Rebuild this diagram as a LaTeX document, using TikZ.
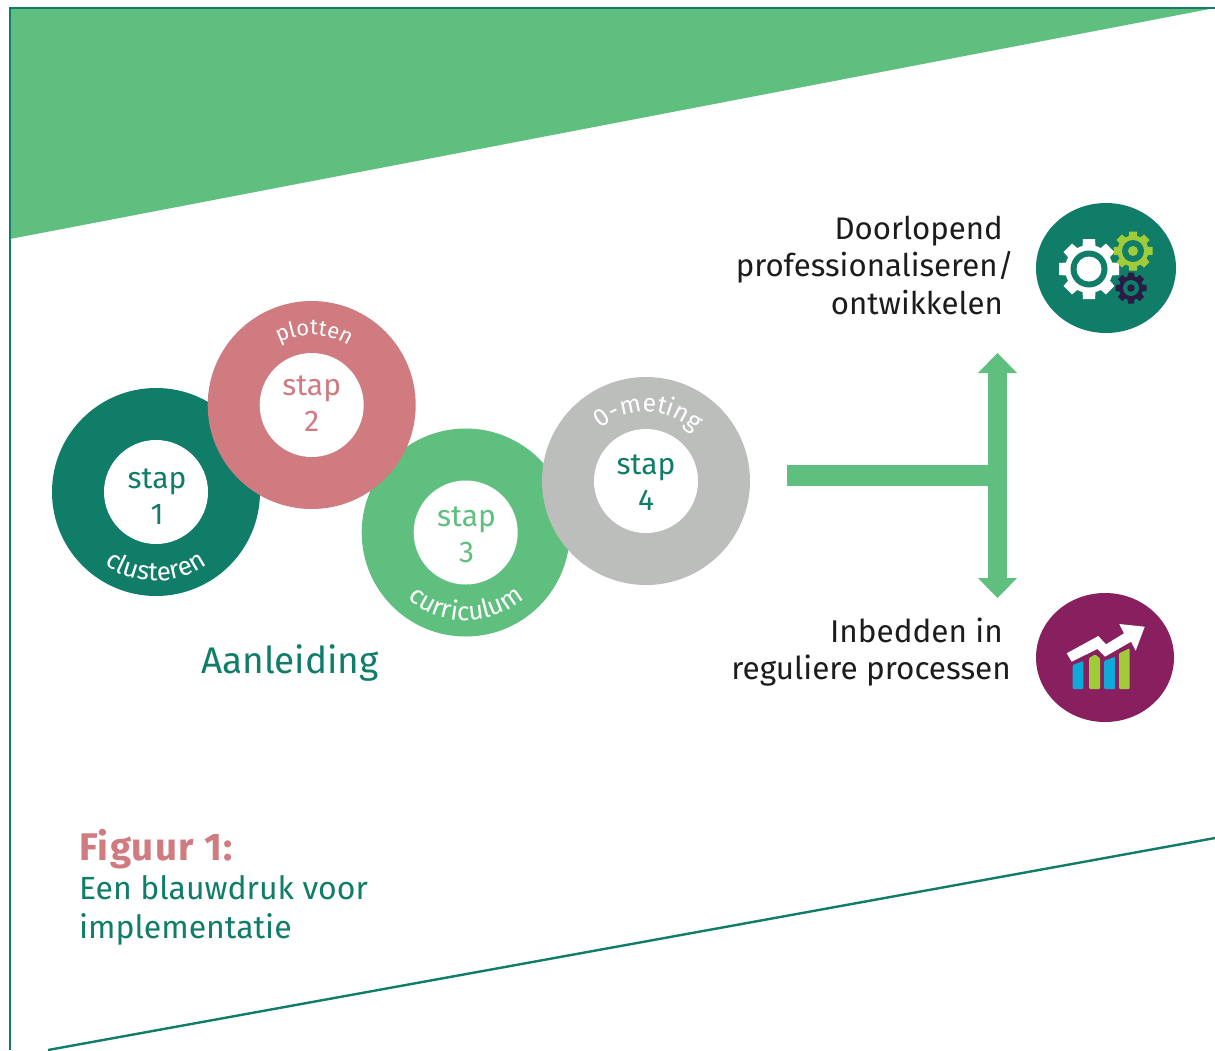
\documentclass[tikz,border=0pt]{standalone}
\usepackage{fontspec}
\setmainfont{Fira Sans}
\usetikzlibrary{decorations.text,shapes.geometric,arrows.meta}
\definecolor{tealc}{HTML}{0F7D68}
\definecolor{rosec}{HTML}{CF7B80}
\definecolor{leafc}{HTML}{5FBF7F}
\definecolor{stonec}{HTML}{BCBEBC}
\definecolor{plumc}{HTML}{882060}
\definecolor{limec}{HTML}{A0CC3A}
\definecolor{inkc}{HTML}{2A1A45}
\definecolor{skyc}{HTML}{10AADA}
\definecolor{txtc}{HTML}{1C1C1C}
\newcommand{\gearshape}[4]{% x y outer body
  \foreach \k in {0,...,7}{
    \fill[rotate around={\k*45:(#1,#2)}] ({#1-#3*0.27},#2) -- ({#1-#3*0.2},{#2-#3}) -- ({#1+#3*0.2},{#2-#3}) -- ({#1+#3*0.27},#2) -- cycle;
  }
  \fill (#1,#2) circle[radius=#4pt];
}
\tikzset{
  x=1pt,y=-1pt,
  ring/.style={circle,minimum size=208pt,inner sep=0pt,fill=#1},
  hole/.style={circle,minimum size=104pt,inner sep=0pt,fill=white},
  steptext/.style={inner sep=0pt,align=center,font=\fontsize{30}{36}\selectfont},
  lbl/.style={inner sep=0pt,font=\fontsize{31.2}{37.5}\selectfont,align=right,anchor=east,text=txtc},
  captext/.style={inner sep=0pt,anchor=base west,text=tealc,font=\fontsize{32}{39}\selectfont},
  connector/.style={leafc,line width=#1},
}
\newcommand{\curved}[7]{% cx cy R a b size text
  \path[decorate,decoration={text along path,text align=center,text={|\fontsize{#6}{#6}\selectfont\color{white}|#7}}]
    ([shift={(#4:#3pt)}]#1,#2) arc[start angle=#4,end angle=#5,radius=#3pt];
}
\begin{document}
\begin{tikzpicture}
\useasboundingbox (0,0) rectangle (1215,1050);
\fill[white] (0,0) rectangle (1215,1050);
\fill[leafc] (10,8) -- (1215,8) -- (10,239) -- cycle;
\draw[tealc,line width=2.4pt] (10,1050) -- (10,8) -- (1215,8);
\coordinate (bl) at (48,1050);
\coordinate (br) at (1215,838);
\draw[tealc,line width=2.4pt] (bl) -- (br);

\node[ring=tealc] (r1) at (156,492) {};
\node[ring=leafc] (r3) at (465.7,532.5) {};
\node[ring=rosec] (r2) at (311.7,405) {};
\node[ring=stonec] (r4) at (646,481) {};
\node[hole] (h1) at (156,492) {};
\node[hole] (h2) at (311.7,405) {};
\node[hole] (h3) at (465.7,532.5) {};
\node[hole] (h4) at (646,481) {};
\node[steptext,text=tealc] (t1) at (157,497) {stap\\1};
\node[steptext,text=rosec] (t2) at (311.7,404) {stap\\2};
\node[steptext,text=leafc] (t3) at (466.5,535) {stap\\3};
\node[steptext,text=tealc] (t4) at (646,482.5) {stap\\4};

\curved{156}{492}{89}{210}{330}{26}{clusteren}
\curved{311.7}{405}{70}{158}{18}{22}{plotten}
\curved{465.7}{532.5}{88}{210}{330}{26}{curriculum}
\curved{646}{481}{69}{158}{18}{25}{0-meting}

\node[text=tealc,font=\fontsize{37}{44}\selectfont] (title) at (290,663) {Aanleiding};

% T-shaped connector
\coordinate (barstart) at (787,475.5);
\coordinate (joint) at (997.5,475.5);
\coordinate (uptip) at (997.5,353);
\coordinate (downtip) at (997.5,598);
\draw[connector=21pt] (barstart) -- (joint);
\draw[connector=19pt,{Triangle[width=38pt,length=20pt]}-{Triangle[width=38pt,length=20pt]}] (uptip) -- (downtip);

% labels
\node[lbl] (doorl) at (1014,265) {Doorlopend\hspace*{11pt}\\professionaliseren/\\ontwikkelen\hspace*{11pt}};
\node[lbl,font=\fontsize{31.5}{37.5}\selectfont] (inbed) at (1011,652) {Inbedden in\hspace*{8pt}\\reguliere processen};

% gear icon
\node[ellipse,fill=tealc,minimum width=140pt,minimum height=130pt,inner sep=0pt] (gears) at (1106,268) {};
\begin{scope}[white]
  \gearshape{1089}{269}{30}{24}
\end{scope}
\fill[tealc] (1089,269) circle[radius=18.5pt];
\fill[white] (1089,269) circle[radius=12.5pt];
\begin{scope}[limec]
  \gearshape{1133}{251}{19.5}{15.5}
\end{scope}
\fill[tealc] (1133,251) circle[radius=11pt];
\fill[limec] (1133,251) circle[radius=5pt];
\begin{scope}[inkc]
  \gearshape{1131}{288}{15.5}{12}
\end{scope}
\fill[tealc] (1131,288) circle[radius=8pt];
\fill[inkc] (1131,288) circle[radius=3.8pt];

% chart icon
\node[ellipse,fill=plumc,minimum width=138pt,minimum height=129pt,inner sep=0pt] (chart) at (1105,657.5) {};
\fill[skyc,rounded corners=1pt] (1072.7,689) -- (1072.7,665) -- (1083.3,661) -- (1083.3,689) -- cycle;
\fill[limec,rounded corners=1pt] (1089,689) -- (1089,658) -- (1095,654.5) -- (1100,658) -- (1100,689) -- cycle;
\fill[skyc,rounded corners=1pt] (1104,689) -- (1104,661) -- (1115,656.7) -- (1115,689) -- cycle;
\fill[limec,rounded corners=1pt] (1119,689) -- (1119,653.3) -- (1129.7,648.3) -- (1129.7,689) -- cycle;
\fill[white] (1066.7,653.3) -- (1098.3,636) -- (1106,644.3) -- (1124,633.3) -- (1119.3,624) -- (1144.7,626.7) -- (1135.7,650.7) -- (1131,641.7) -- (1105,656.7) -- (1097.3,649) -- (1071.7,661.7) -- cycle;

% caption
\node[inner sep=0pt,anchor=base west,text=rosec,font=\fontsize{38.5}{40}\selectfont\bfseries\addfontfeature{LetterSpace=3}] (figlabel) at (79,860) {Figuur 1:};
\node[captext] (cap1) at (79,899) {Een blauwdruk voor};
\node[captext] (cap2) at (79,938) {implementatie};
\end{tikzpicture}
\end{document}
